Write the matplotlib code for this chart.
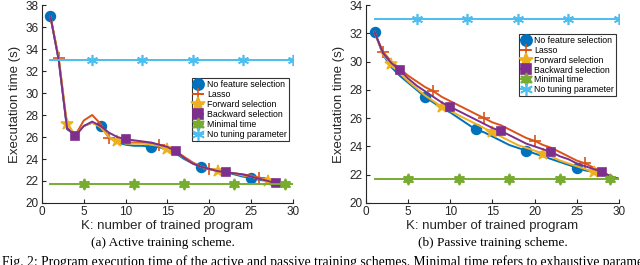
import matplotlib
matplotlib.use("Agg")
import matplotlib.pyplot as plt
import numpy as np

plt.rcParams['font.family'] = ['Liberation Sans', 'DejaVu Sans']

# ---- data -------------------------------------------------------------
k_active = list(range(1, 29))
active_none = [37.0, 33.0, 26.7, 26.2, 27.0, 27.3, 27.0, 26.0, 25.5, 25.3,
               25.2, 25.2, 25.1, 25.1, 24.8, 24.5, 24.0, 23.6, 23.3, 23.1,
               22.9, 22.8, 22.6, 22.4, 22.3, 22.1, 22.0, 21.8]
active_lasso = [37.0, 33.2, 26.9, 26.2, 27.5, 28.0, 27.2, 25.9, 25.7, 25.5,
                25.5, 25.5, 25.4, 25.3, 25.0, 24.7, 24.2, 23.7, 23.3, 23.1,
                22.9, 22.8, 22.7, 22.6, 22.5, 22.3, 22.2, 21.9]
active_forward = [37.0, 33.2, 27.2, 26.2, 27.0, 27.3, 26.9, 26.0, 25.6, 25.4,
                  25.4, 25.4, 25.3, 25.2, 24.9, 24.6, 24.1, 23.6, 23.3, 23.1,
                  22.9, 22.8, 22.7, 22.5, 22.4, 22.2, 22.0, 21.8]
active_backward = [37.0, 33.0, 26.8, 26.1, 27.0, 27.4, 27.0, 26.4, 26.0, 25.8,
                   25.7, 25.6, 25.5, 25.3, 25.1, 24.7, 24.1, 23.6, 23.3, 23.1,
                   22.9, 22.8, 22.7, 22.6, 22.4, 22.2, 22.0, 21.8]

k_passive = list(range(1, 31))
passive_none = [32.1, 30.5, 29.6, 29.0, 28.5, 28.0, 27.5, 27.1, 26.7, 26.4,
                26.0, 25.6, 25.2, 25.0, 24.7, 24.4, 24.1, 23.9, 23.7, 23.5,
                23.3, 23.1, 22.9, 22.7, 22.5, 22.3, 22.2, 22.0, 21.9, 21.7]
passive_lasso = [32.1, 30.7, 30.0, 29.5, 29.0, 28.6, 28.2, 27.9, 27.5, 27.2,
                 26.9, 26.6, 26.3, 26.0, 25.7, 25.5, 25.2, 24.9, 24.6, 24.4,
                 24.1, 23.9, 23.6, 23.3, 23.0, 22.8, 22.5, 22.2, 21.9, 21.7]
passive_forward = [32.1, 30.5, 29.8, 29.2, 28.6, 28.1, 27.6, 27.2, 26.8, 26.5,
                   26.2, 25.9, 25.6, 25.3, 25.0, 24.7, 24.4, 24.1, 23.9, 23.7,
                   23.5, 23.3, 23.0, 22.8, 22.6, 22.4, 22.2, 22.1, 21.9, 21.7]
passive_backward = [32.1, 30.6, 29.9, 29.4, 28.8, 28.3, 27.9, 27.5, 27.1, 26.8,
                    26.5, 26.2, 25.9, 25.6, 25.3, 25.1, 24.8, 24.5, 24.2, 24.0,
                    23.8, 23.6, 23.3, 23.1, 22.8, 22.6, 22.4, 22.2, 21.9, 21.7]

k_flat = list(range(1, 31))
minimal_time = 21.7
no_tuning = 33.0

labels = ["No feature selection", "Lasso", "Forward selection",
          "Backward selection", "Minimal time", "No tuning parameter"]
colors = ["#0072BD", "#D95319", "#EDB120", "#7E2F8E", "#77AC30", "#4DBEEE"]
markers = ["o", "+", "*", "s", (6, 1, 0), (6, 2, 0)]
marker_sizes = [7, 8, 9, 6, 8, 8]
mark_start = [0, 1, 2, 3, 4, 5]  # markers every 6th point, shifted per series


def draw_panel(ax, k, series, ylim, yticks):
    flat = [[minimal_time] * len(k_flat), [no_tuning] * len(k_flat)]
    for i, lab in enumerate(labels):
        if i < 4:
            xs, ys = k, series[i]
        else:
            xs, ys = k_flat, flat[i - 4]
        ax.plot(xs, ys, color=colors[i], lw=1.4, marker=markers[i],
                markersize=marker_sizes[i], markevery=slice(mark_start[i], None, 6),
                markeredgewidth=1.2, label=lab)
    ax.set_xlim(0, 30)
    ax.set_ylim(*ylim)
    ax.set_xticks(range(0, 31, 5))
    ax.set_yticks(yticks)
    ax.tick_params(direction='in', labelsize=8.5, length=3, top=False, right=False,
                   colors='#262626', pad=2.5)
    ax.set_xlabel("K: number of trained program", fontsize=9.5, labelpad=1,
                  color='#262626')
    ax.set_ylabel("Executation time (s)", fontsize=9.5, labelpad=3, color='#262626')
    for s in ["top", "right"]:
        ax.spines[s].set_visible(False)
    for s in ["left", "bottom"]:
        ax.spines[s].set_color('#262626')
    return ax


fig = plt.figure(figsize=(6.4, 2.65), dpi=100)
ax1 = fig.add_axes([0.0656, 0.234, 0.392, 0.747])
ax2 = fig.add_axes([0.572, 0.234, 0.395, 0.747])

draw_panel(ax1, k_active, [active_none, active_lasso, active_forward, active_backward],
           (20, 38), range(20, 39, 2))
draw_panel(ax2, k_passive, [passive_none, passive_lasso, passive_forward, passive_backward],
           (20, 34), range(20, 35, 2))

leg_kw = dict(fontsize=6.3, frameon=True, fancybox=False, edgecolor='black',
              handlelength=1.0, handletextpad=0.5, borderpad=0.25,
              labelspacing=0.1, borderaxespad=0.0, markerscale=1.15)
l1 = ax1.legend(loc='upper right', bbox_to_anchor=(0.985, 0.63), **leg_kw)
l2 = ax2.legend(loc='upper right', bbox_to_anchor=(0.99, 0.855), **leg_kw)
for leg in (l1, l2):
    leg.get_frame().set_linewidth(0.8)

serif = ['Liberation Serif', 'DejaVu Serif']
fig.text(0.255, 0.083, "(a) Active training scheme.", ha='center', va='center',
         fontsize=9.5, family=serif)
fig.text(0.77, 0.083, "(b) Passive training scheme.", ha='center', va='center',
         fontsize=9.5, family=serif)
fig.text(0.003, -0.015, "Fig. 2: Program execution time of the active and passive training "
         "schemes. Minimal time refers to exhaustive parameter", ha='left', va='bottom',
         fontsize=9.8, family=serif)

fig.savefig("out.png", dpi=100)
